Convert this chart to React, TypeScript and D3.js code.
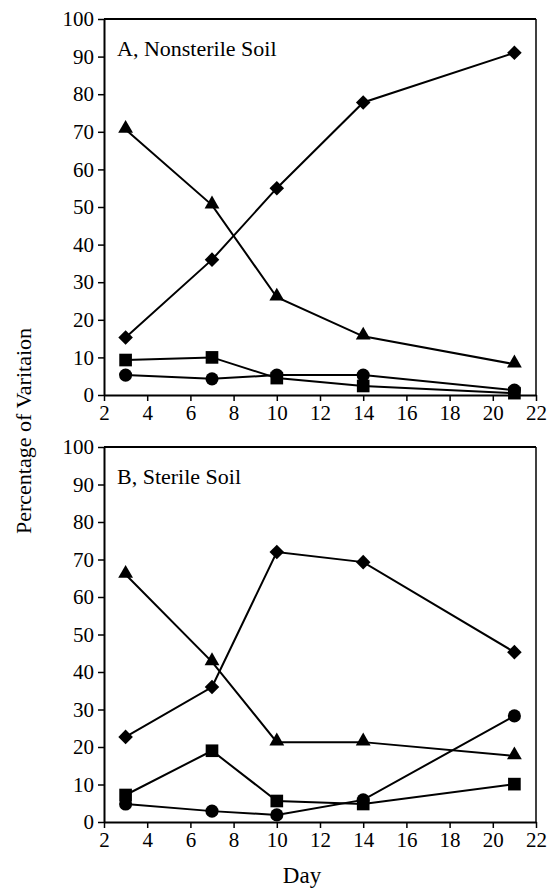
import { useRef, useEffect } from 'react';
import * as d3 from 'd3';

const days = [3, 7, 10, 14, 21];
const xTicks = [2, 4, 6, 8, 10, 12, 14, 16, 18, 20, 22];
const yTicks = [0, 10, 20, 30, 40, 50, 60, 70, 80, 90, 100];

// panel A, nonsterile soil
const aDiamond = [15.3, 36, 55, 77.8, 91];
const aTriangle = [70.6, 50.5, 26, 15.6, 8.2];
const aSquare = [9.3, 10, 4.5, 2.4, 0.5];
const aCircle = [5.3, 4.3, 5.3, 5.3, 1.3];

// panel B, sterile soil
const bDiamond = [22.7, 36, 72, 69.3, 45.3];
const bTriangle = [66, 42.7, 21.3, 21.3, 17.6];
const bSquare = [7.2, 19, 5.6, 4.8, 10.1];
const bCircle = [4.8, 2.9, 1.9, 5.9, 28.3];

const font = 'Liberation Serif, serif';
const marginLeft = 104;
const marginRight = 11;
const width = 547;

function Panel({ title, top, bottom, diamond, triangle, square, circle }) {
  const gx = useRef(null);
  const gy = useRef(null);
  const x = d3.scaleLinear([2, 22], [marginLeft, width - marginRight]);
  const y = d3.scaleLinear([0, 100], [bottom, top]);

  useEffect(() => {
    const ax = d3.select(gx.current);
    ax.call(d3.axisBottom(x).tickValues(xTicks).tickSize(6).tickSizeOuter(0).tickPadding(4));
    ax.attr('font-family', font).attr('font-size', 21);
    ax.select('.domain').attr('stroke-width', 2);
    ax.selectAll('.tick line').attr('stroke-width', 1.5);
    ax.selectAll('.tick text').attr('fill', '#000');
    const ay = d3.select(gy.current);
    ay.call(d3.axisLeft(y).tickValues(yTicks).tickSize(6).tickSizeOuter(0).tickPadding(4));
    ay.attr('font-family', font).attr('font-size', 21);
    ay.select('.domain').attr('stroke-width', 2);
    ay.selectAll('.tick line').attr('stroke-width', 1.5);
    ay.selectAll('.tick text').attr('fill', '#000');
  }, [x, y]);

  const line = d3.line().x((d, i) => x(days[i])).y(d => y(d));
  const series = [
    { values: diamond, shape: d3.symbolDiamond2, size: 135, dy: 0 },
    { values: triangle, shape: d3.symbolTriangle, size: 95, dy: -1 },
    { values: square, shape: d3.symbolSquare, size: 160, dy: 0 },
    { values: circle, shape: d3.symbolCircle, size: 135, dy: 0 },
  ];

  return (
    <g>
      <line x1={marginLeft} x2={width - marginRight} y1={top} y2={top} stroke="#000" strokeWidth={2} />
      <line x1={width - marginRight} x2={width - marginRight} y1={top} y2={bottom} stroke="#000" strokeWidth={1.5} />
      <g ref={gx} transform={`translate(0,${bottom})`} />
      <g ref={gy} transform={`translate(${marginLeft},0)`} />
      <text x={117} y={top + 37} fontFamily={font} fontSize={22}>{title}</text>
      {series.map((s, k) => (
        <g key={k}>
          <path d={line(s.values)} fill="none" stroke="#000" strokeWidth={2} />
          {s.values.map((v, i) => (
            <path key={i} d={d3.symbol(s.shape, s.size)()} fill="#000"
              transform={`translate(${x(days[i])},${y(v) + s.dy})`} />
          ))}
        </g>
      ))}
    </g>
  );
}

export default function App() {
  return (
    <svg width={547} height={888} style={{ position: 'absolute', left: 0, top: 0, background: '#fff' }}>
      <Panel title="A, Nonsterile Soil" top={19} bottom={395}
        diamond={aDiamond} triangle={aTriangle} square={aSquare} circle={aCircle} />
      <Panel title="B, Sterile Soil" top={447} bottom={822}
        diamond={bDiamond} triangle={bTriangle} square={bSquare} circle={bCircle} />
      <text x={302} y={883} textAnchor="middle" fontFamily={font} fontSize={23}>Day</text>
      <text transform="translate(31,431) rotate(-90)" textAnchor="middle" fontFamily={font} fontSize={22}>Percentage of Varitaion</text>
    </svg>
  );
}
